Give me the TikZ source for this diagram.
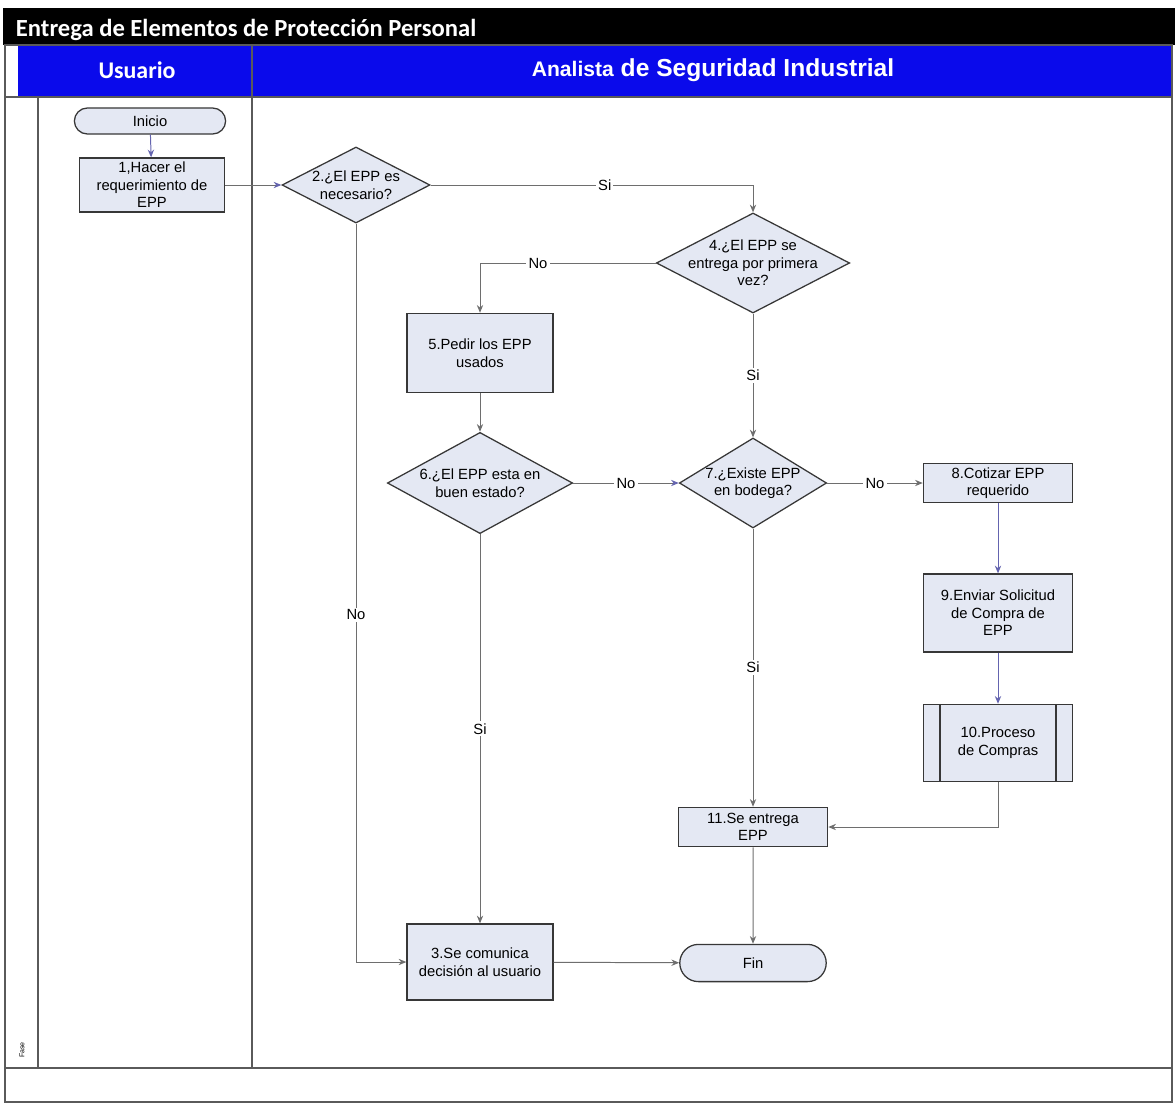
\documentclass[tikz,border=0pt]{standalone}
\usepackage{fontspec}
\setmainfont{Liberation Sans}
\newfontfamily\headfont{Carlito}
\usetikzlibrary{shapes.geometric,shapes.misc,arrows.meta}
\definecolor{boxfill}{RGB}{228,232,243}
\definecolor{boxline}{RGB}{55,55,55}
\definecolor{linkgray}{RGB}{110,110,110}
\definecolor{linkblue}{RGB}{100,100,175}
\definecolor{headblue}{RGB}{10,10,235}
\definecolor{lanegray}{RGB}{90,90,90}

\begin{document}
\begin{tikzpicture}[x=0.025cm, y=-0.025cm,
    every node/.style={font=\fontsize{10.5}{12.5}\selectfont, align=center},
    task/.style={draw=boxline, fill=boxfill, line width=0.9pt, inner sep=1pt, minimum width=3.65cm},
    decision/.style={diamond, draw=boxline, fill=boxfill, line width=0.9pt, inner sep=0pt},
    terminal/.style={rounded rectangle, draw=boxline, fill=boxfill, line width=0.9pt, inner sep=1pt},
    flow/.style={draw=linkgray, line width=0.7pt, -{Stealth[length=5.5pt,width=4.5pt]}},
    flowb/.style={flow, draw=linkblue},
    tipb/.style={-{Stealth[length=5.5pt,width=4.5pt,color=linkblue]}},
    lbl/.style={fill=white, inner sep=1.5pt},
    lane/.style={draw=lanegray, line width=0.8pt}]

    \useasboundingbox (0,0) rectangle (1175,1104);

    \fill[black] (3,8) rectangle (1175,45);
    \fill[headblue] (18,45) rectangle (1172,97);
    \draw[lane] (5,45) rectangle (1172,1102);
    \draw[lane] (5,97) -- (1172,97);
    \draw[lane] (5,1068) -- (1172,1068);
    \draw[lane] (38,97) -- (38,1068);
    \draw[lane] (252,45) -- (252,1068);

    \node[text=white, font=\headfont\bfseries\fontsize{17.5}{19}\selectfont, anchor=base west] (title) at (11,37) {Entrega de Elementos de Protección Personal};
    \node[text=white, font=\headfont\bfseries\fontsize{17}{19}\selectfont] (usuario) at (137,70) {Usuario};
    \node[text=white, font=\bfseries\fontsize{17.5}{19}\selectfont] (analista) at (713,70) {{\fontsize{15}{17}\selectfont Analista} de Seguridad Industrial};
    \node[rotate=90, font=\fontsize{5}{6}\selectfont] (fase) at (22,1050) {Fase};

    \node[terminal, minimum width=3.85cm, minimum height=0.65cm] (inicio) at (150,121) {Inicio};
    \node[task, minimum width=3.63cm, minimum height=1.35cm] (n1) at (152,185) {1,Hacer el\\requerimiento de\\EPP};
    \node[decision, minimum width=3.7cm, minimum height=1.9cm, label={center:{2.¿El EPP es\\necesario?}}] (d2) at (356,185) {};
    \node[decision, minimum width=4.83cm, minimum height=2.5cm, label={center:{4.¿El EPP se\\entrega por primera\\vez?}}] (d4) at (753,263) {};
    \node[task, minimum height=1.98cm] (n5) at (480,353) {5.Pedir los EPP\\usados};
    \node[decision, minimum width=4.63cm, minimum height=2.53cm, label={center:{6.¿El EPP esta en\\buen estado?}}] (d6) at (480,483) {};
    \node[decision, minimum width=3.68cm, minimum height=2.25cm, label={center:{7.¿Existe EPP\\en bodega?}}] (d7) at (753,483) {};
    \node[task, minimum width=3.73cm, minimum height=0.98cm] (n8) at (998,483) {8.Cotizar EPP\\requerido};
    \node[task, minimum width=3.73cm, minimum height=1.95cm] (n9) at (998,613) {9.Enviar Solicitud\\de Compra de\\EPP};
    \node[task, minimum width=3.73cm, minimum height=1.93cm] (n10) at (998,743) {10.Proceso\\de Compras};
    \draw[boxline, line width=0.9pt] ([xshift=0.43cm]n10.north west) -- ([xshift=0.43cm]n10.south west);
    \draw[boxline, line width=0.9pt] ([xshift=-0.43cm]n10.north east) -- ([xshift=-0.43cm]n10.south east);
    \node[task, minimum width=3.73cm, minimum height=0.98cm] (n11) at (753,827) {11.Se entrega\\EPP};
    \node[task, minimum height=1.9cm] (n3) at (480,962) {3.Se comunica\\decisión al usuario};
    \node[terminal, minimum width=3.73cm, minimum height=0.93cm] (fin) at (753,963) {Fin};

    \draw[flowb] (inicio) -- (n1);
    \draw[flow, tipb] (n1) -- (d2);
    \draw[flow] (d2.east) -- node[lbl, pos=0.54] {Si} (d2.east -| d4.north) -- (d4.north);
    \draw[flow] (d2.south) -- node[lbl, pos=0.53] {No} (d2.south |- n3.west) -- (n3.west);
    \draw[flow] (d4.west) -- node[lbl, pos=0.67] {No} (d4.west -| n5.north) -- (n5.north);
    \draw[flow] (d4.south) -- node[lbl] {Si} (d7.north);
    \draw[flow] (n5) -- (d6);
    \draw[flow, tipb] (d6.east) -- node[lbl] {No} (d7.west);
    \draw[flow] (d6.south) -- node[lbl] {Si} (n3.north);
    \draw[flow] (d7.east) -- node[lbl] {No} (n8.west);
    \draw[flow] (d7.south) -- node[lbl] {Si} (n11.north);
    \draw[flowb] (n8) -- (n9);
    \draw[flowb] (n9) -- (n10);
    \draw[flow] (n10.south) |- (n11.east);
    \draw[flow] (n11) -- (fin);
    \draw[flow] (n3) -- (fin);
\end{tikzpicture}
\end{document}
